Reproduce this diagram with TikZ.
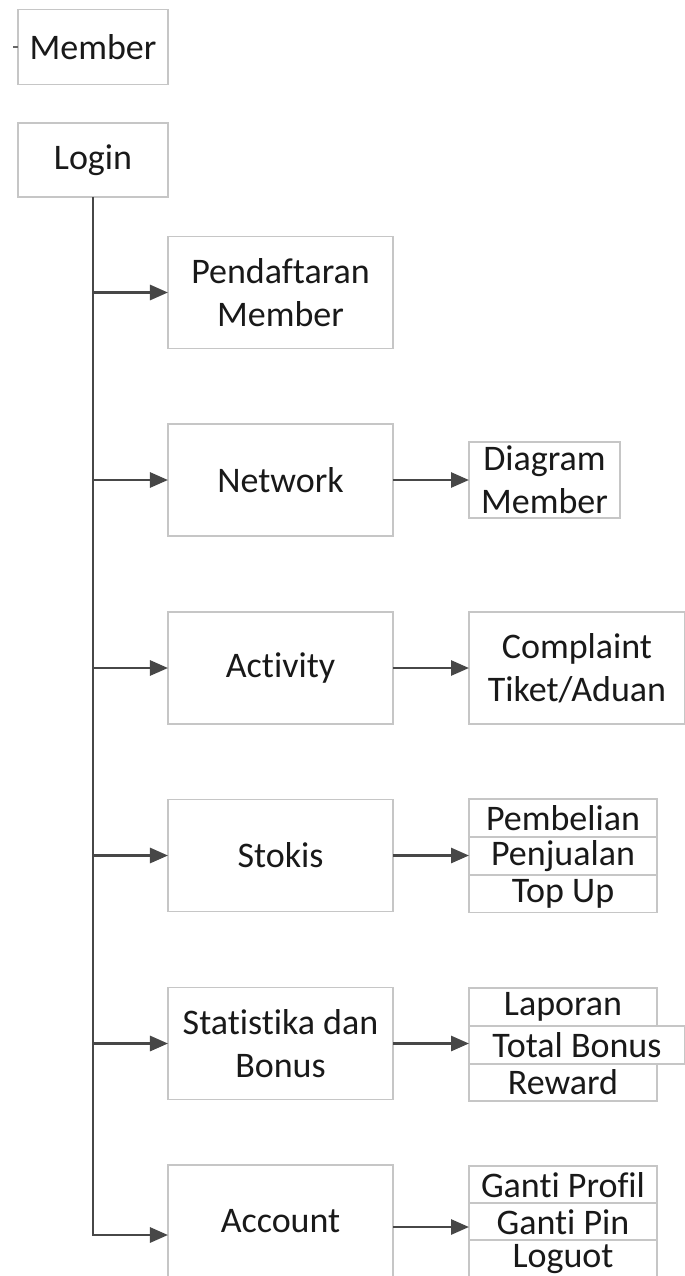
\documentclass[tikz,border=0pt]{standalone}
\usepackage{fontspec}
\setmainfont{Carlito}[Ligatures=NoCommon]
\usetikzlibrary{arrows.meta}

\tikzset{
  kotak/.style={draw=gray!45, line width=0.45mm, fill=white, align=center,
    inner sep=0pt, outer sep=0pt, text=black!90,
    font=\fontsize{25.6}{30.5}\selectfont},
  menu/.style={kotak, minimum width=56.25mm, minimum height=28mm},
  sub/.style={kotak, minimum width=47mm, minimum height=9.45mm},
  panah/.style={draw=black!72, line width=0.7mm,
    -{Triangle[length=4.5mm,width=3.75mm]}},
}

\begin{document}
\begin{tikzpicture}[x=0.25mm, y=-0.25mm]
    \useasboundingbox (0,0) rectangle (685,1276);
    \clip (0,0) rectangle (685,1276);

    % atas
    \node[kotak, minimum width=37.5mm, minimum height=18.75mm] (member) at (93,47) {Member};
    \coordinate (stub) at (13,47);
    \draw[draw=black!60, line width=0.3mm] (stub) -- (member.west);
    \node[kotak, minimum width=37.5mm, minimum height=18.5mm] (login) at (93,160) {Login};

    % menu utama
    \node[menu] (daftar) at (280.5,292.5) {Pendaftaran\\Member};
    \node[menu] (network) at (280.5,480) {Network};
    \node[menu] (activity) at (280.5,668) {Activity};
    \node[menu] (stokis) at (280.5,855.5) {Stokis};
    \node[menu] (statistik) at (280.5,1043.5) {Statistika dan\\Bonus};
    \node[menu] (account) at (280.5,1221) {Account};

    % sub menu
    \node[kotak, minimum width=37.75mm, minimum height=19mm] (diagram) at (544.5,480) {Diagram\\Member};
    \node[kotak, minimum width=54mm, minimum height=28mm] (complaint) at (577,668) {Complaint\\Tiket/Aduan};

    \node[sub] (beli) at (563,818) {Pembelian};
    \node[sub] (jual) at (563,856) {Penjualan};
    \node[sub] (topup) at (563,893.5) {Top Up};

    \node[sub] (laporan) at (563,1007) {Laporan};
    \node[sub] (reward) at (563,1082) {Reward};
    \node[sub, minimum width=54mm] (bonus) at (577,1045) {Total Bonus};

    \node[sub] (profil) at (563,1185) {Ganti Profil};
    \node[sub] (pin) at (563,1222) {Ganti Pin};
    \node[sub] (logout) at (563,1259) {Loguot};

    % garis utama
    \draw[panah] (login.south) |- ([yshift=-3.5mm]account.west);
    \foreach \m in {daftar, network, activity, stokis, statistik}
        \draw[panah] (login.south |- \m.west) -- (\m.west);

    % ke sub menu
    \draw[panah] (network.east) -- (diagram.west);
    \draw[panah] (activity.east) -- (complaint.west);
    \draw[panah] (stokis.east) -- (stokis.east -| jual.west);
    \draw[panah] (statistik.east) -- (statistik.east -| bonus.west);
    \draw[panah] ([yshift=-1.5mm]account.east) -- ([yshift=-1.5mm]account.east -| pin.west);
\end{tikzpicture}
\end{document}
